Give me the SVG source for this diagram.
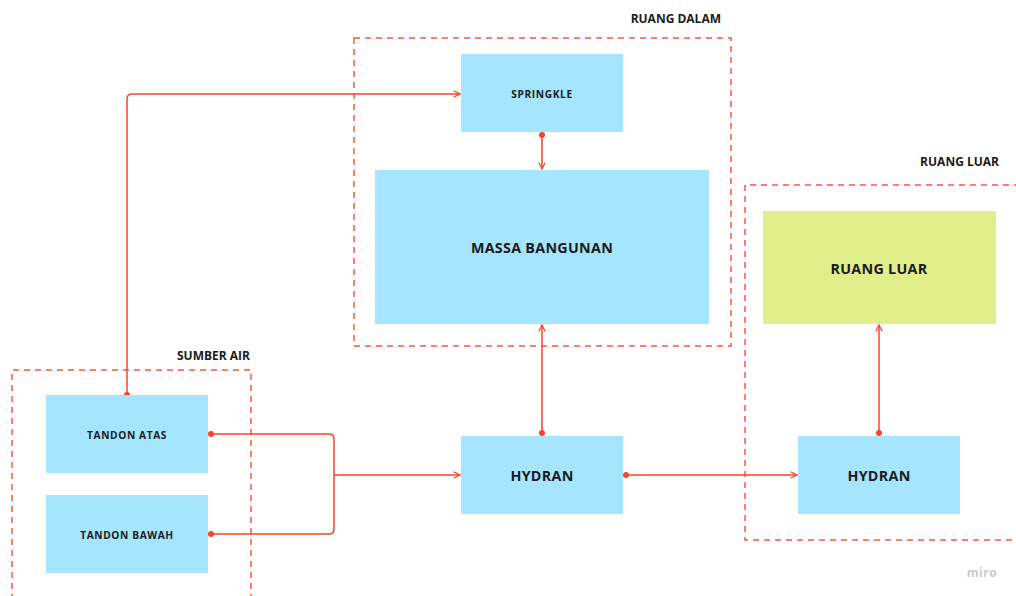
<svg xmlns="http://www.w3.org/2000/svg" width="1016" height="596" viewBox="0 0 1016 596">
<style>
.frame{fill:none;stroke:#f5593b;stroke-width:1.5;stroke-dasharray:6 5}
.flabel{font-family:"Open Sans",sans-serif;font-weight:700;font-size:12px;fill:#1a1a1a}
.blue{fill:#a6e5ff}
.green{fill:#e0ef8a}
.t9{font-family:"Open Sans",sans-serif;font-weight:700;font-size:10.2px;fill:#1a1a1a;text-anchor:middle;dominant-baseline:central;letter-spacing:0.6px}
.t14{font-family:"Open Sans",sans-serif;font-weight:700;font-size:14.3px;fill:#1a1a1a;text-anchor:middle;dominant-baseline:central;letter-spacing:0.3px}
.conn{fill:none;stroke:#f24726;stroke-width:1.5}
.dot{fill:#f24726}
</style>
<defs>
<marker id="arr" viewBox="0 0 10 10" refX="9" refY="5" markerWidth="8" markerHeight="8" markerUnits="userSpaceOnUse" orient="auto">
<path d="M1,1 L9,5 L1,9" fill="none" stroke="#f24726" stroke-width="1.5"/>
</marker>
</defs>
<rect width="1016" height="596" fill="#ffffff"/>
<g id="frame-ruang-dalam">
<rect class="frame" x="354" y="38" width="377" height="308"/>
<text class="flabel" x="721" y="23" text-anchor="end">RUANG DALAM</text>
</g>
<g id="frame-ruang-luar">
<path class="frame" d="M1020,185 H745 V540 H1020"/>
<text class="flabel" x="999" y="166" text-anchor="end">RUANG LUAR</text>
</g>
<g id="frame-sumber-air">
<path class="frame" d="M12,600 V370 H251 V600"/>
<text class="flabel" x="250" y="360" text-anchor="end">SUMBER AIR</text>
</g>
<g id="connectors">
<path class="conn" d="M127,395 V99 Q127,94 132,94 H460" marker-end="url(#arr)"/>
<circle class="dot" cx="127" cy="395" r="3"/>
<path class="conn" d="M211,434 H329 Q334,434 334,439 V475 H460" marker-end="url(#arr)"/>
<path class="conn" d="M211,534 H329 Q334,534 334,529 V475"/>
<circle class="dot" cx="211" cy="434" r="3"/>
<circle class="dot" cx="211" cy="534" r="3"/>
<path class="conn" d="M542,135 V169" marker-end="url(#arr)"/>
<circle class="dot" cx="542" cy="135" r="3"/>
<path class="conn" d="M542,433 V325" marker-end="url(#arr)"/>
<circle class="dot" cx="542" cy="433" r="3"/>
<path class="conn" d="M626,475 H797" marker-end="url(#arr)"/>
<circle class="dot" cx="626" cy="475" r="3"/>
<path class="conn" d="M879,433 V325" marker-end="url(#arr)"/>
<circle class="dot" cx="879" cy="433" r="3"/>
</g>
<g id="springkle">
<rect class="blue" x="461" y="54" width="162" height="78"/>
<text class="t9" x="542" y="94">SPRINGKLE</text>
</g>
<g id="massa-bangunan">
<rect class="blue" x="375" y="170" width="334" height="154"/>
<text class="t14" x="542" y="247">MASSA BANGUNAN</text>
</g>
<g id="ruang-luar">
<rect class="green" x="763" y="211" width="233" height="113"/>
<text class="t14" x="879" y="268">RUANG LUAR</text>
</g>
<g id="hydran-1">
<rect class="blue" x="461" y="436" width="162" height="78"/>
<text class="t14" x="542" y="475">HYDRAN</text>
</g>
<g id="hydran-2">
<rect class="blue" x="798" y="436" width="162" height="78"/>
<text class="t14" x="879" y="475">HYDRAN</text>
</g>
<g id="tandon-atas">
<rect class="blue" x="46" y="395" width="162" height="78"/>
<text class="t9" x="127" y="435">TANDON ATAS</text>
</g>
<g id="tandon-bawah">
<rect class="blue" x="46" y="495" width="162" height="78"/>
<text class="t9" x="127" y="535">TANDON BAWAH</text>
</g>
<text x="982" y="577" font-family="Open Sans, sans-serif" font-weight="700" font-size="12" fill="#c8c8d4" text-anchor="middle" letter-spacing="0.5">miro</text>
</svg>
